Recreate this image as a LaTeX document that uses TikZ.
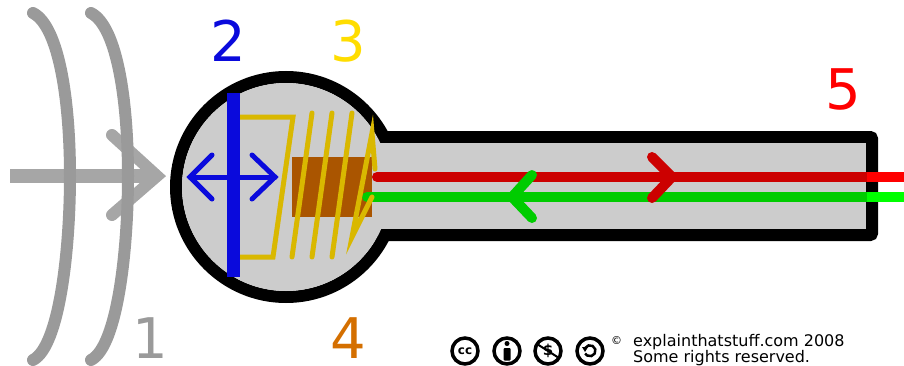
\documentclass[tikz,border=0pt]{standalone}
\usepackage{fontspec}
\setmainfont{DejaVu Sans}
\definecolor{wavegray}{HTML}{9A9A9A}
\definecolor{arrowgray}{HTML}{A6A6A6}
\definecolor{shellgray}{HTML}{CCCCCC}
\definecolor{diaphblue}{HTML}{0A0ADC}
\definecolor{coilyellow}{HTML}{D9B800}
\definecolor{labelyellow}{HTML}{FFDD00}
\definecolor{corebrown}{HTML}{AA5500}
\definecolor{labelorange}{HTML}{D46F00}
\definecolor{outred}{HTML}{CC0000}
\definecolor{brightred}{HTML}{FF0000}
\definecolor{backgreen}{HTML}{00CC00}
\definecolor{brightgreen}{HTML}{00FF00}

\begin{document}
\begin{tikzpicture}[x=1pt, y=1pt,
    wave/.style={line width=12pt, color=wavegray, line cap=round},
    wire/.style={line width=10pt, line cap=round, line join=miter},
    coil/.style={line width=5pt, color=coilyellow, line cap=round, line join=miter},
    num/.style={font=\fontsize{56}{56}\selectfont, inner sep=0pt},
    ccicon/.style={circle, draw=black, line width=3.5pt, fill=white, minimum size=26pt, inner sep=0pt}]
    \useasboundingbox (0,0) rectangle (904,365);
    \draw[line width=14pt, color=arrowgray] (10,189) -- (150,189);
    \draw[line width=12pt, color=arrowgray, line cap=round, line join=miter] (112,230) -- (157,189) -- (112,150);
    \foreach \dx in {0,58}
        \draw[wave, xshift=\dx] (33,352) .. controls (60,338) and (70,260) .. (70,189) .. controls (70,118) and (60,19) .. (33,5);
    \draw[line width=12pt] (286,178) circle (110);
    \draw[line width=12pt, rounded corners=2pt] (330,130) rectangle (872,228);
    \fill[shellgray] (286,178) circle (104);
    \fill[shellgray] (336,136) rectangle (866,222);
    \fill[corebrown] (292,148) rectangle (372,208);
    \draw[wire, color=outred] (377,188) -- (867,188);
    \draw[line width=10pt, color=brightred] (867,188) -- (904,188);
    \draw[wire, color=backgreen] (367,168) -- (867,168);
    \draw[line width=10pt, color=brightgreen] (867,168) -- (904,168);
    \draw[wire, color=outred] (652,208) -- (672,188) -- (652,167);
    \draw[wire, color=backgreen] (532,190) -- (512,168) -- (532,147);
    \draw[coil] (230,248) -- (293,248) -- (273,108) -- (230,108);
    \foreach \x in {312,332,352}
        \draw[coil] (\x,252) -- (\x-20,108);
    \draw[coil] (372,168) -- (352,128) -- (372,232) -- (375,196);
    \draw[line width=13pt, color=diaphblue] (233,88) -- (233,272);
    \draw[line width=5pt, color=diaphblue, line cap=round] (190,188) -- (275,188);
    \draw[line width=5pt, color=diaphblue, line cap=round, line join=miter] (212,210) -- (190,188) -- (212,166);
    \draw[line width=5pt, color=diaphblue, line cap=round, line join=miter] (252,210) -- (275,188) -- (252,166);
    \node[num, text=wavegray] (one) at (150,27) {1};
    \node[num, text=diaphblue] (two) at (228,324) {2};
    \node[num, text=labelyellow] (three) at (348,324) {3};
    \node[num, text=labelorange] (four) at (348,27) {4};
    \node[num, text=brightred] (five) at (843,276) {5};
    \node[ccicon] (cc) at (465,14) {\fontsize{12}{12}\selectfont\bfseries cc};
    \node[ccicon] (by) at (507,14) {};
    \fill (507,21.5) circle (2.5);
    \fill[rounded corners=1pt] (503.5,4.5) rectangle (510.5,17);
    \node[ccicon] (nc) at (548,14) {\fontsize{15}{15}\selectfont\bfseries\$};
    \draw[line width=2pt] (537,21) -- (559,7);
    \node[ccicon] (sa) at (590,14) {};
    \draw[line width=2.5pt] (585.2,17) arc[start angle=150, end angle=-150, radius=5.5];
    \fill (582,18) -- (588,18) -- (585,13) -- cycle;
    \node[anchor=base west, inner sep=0pt, font=\fontsize{11}{11}\selectfont] (copy) at (611,21) {©};
    \node[anchor=north west, align=left, inner sep=0pt, font=\fontsize{16}{14}\selectfont] (credit) at (633,31) {explainthatstuff.com 2008\\Some rights reserved.};
\end{tikzpicture}
\end{document}
